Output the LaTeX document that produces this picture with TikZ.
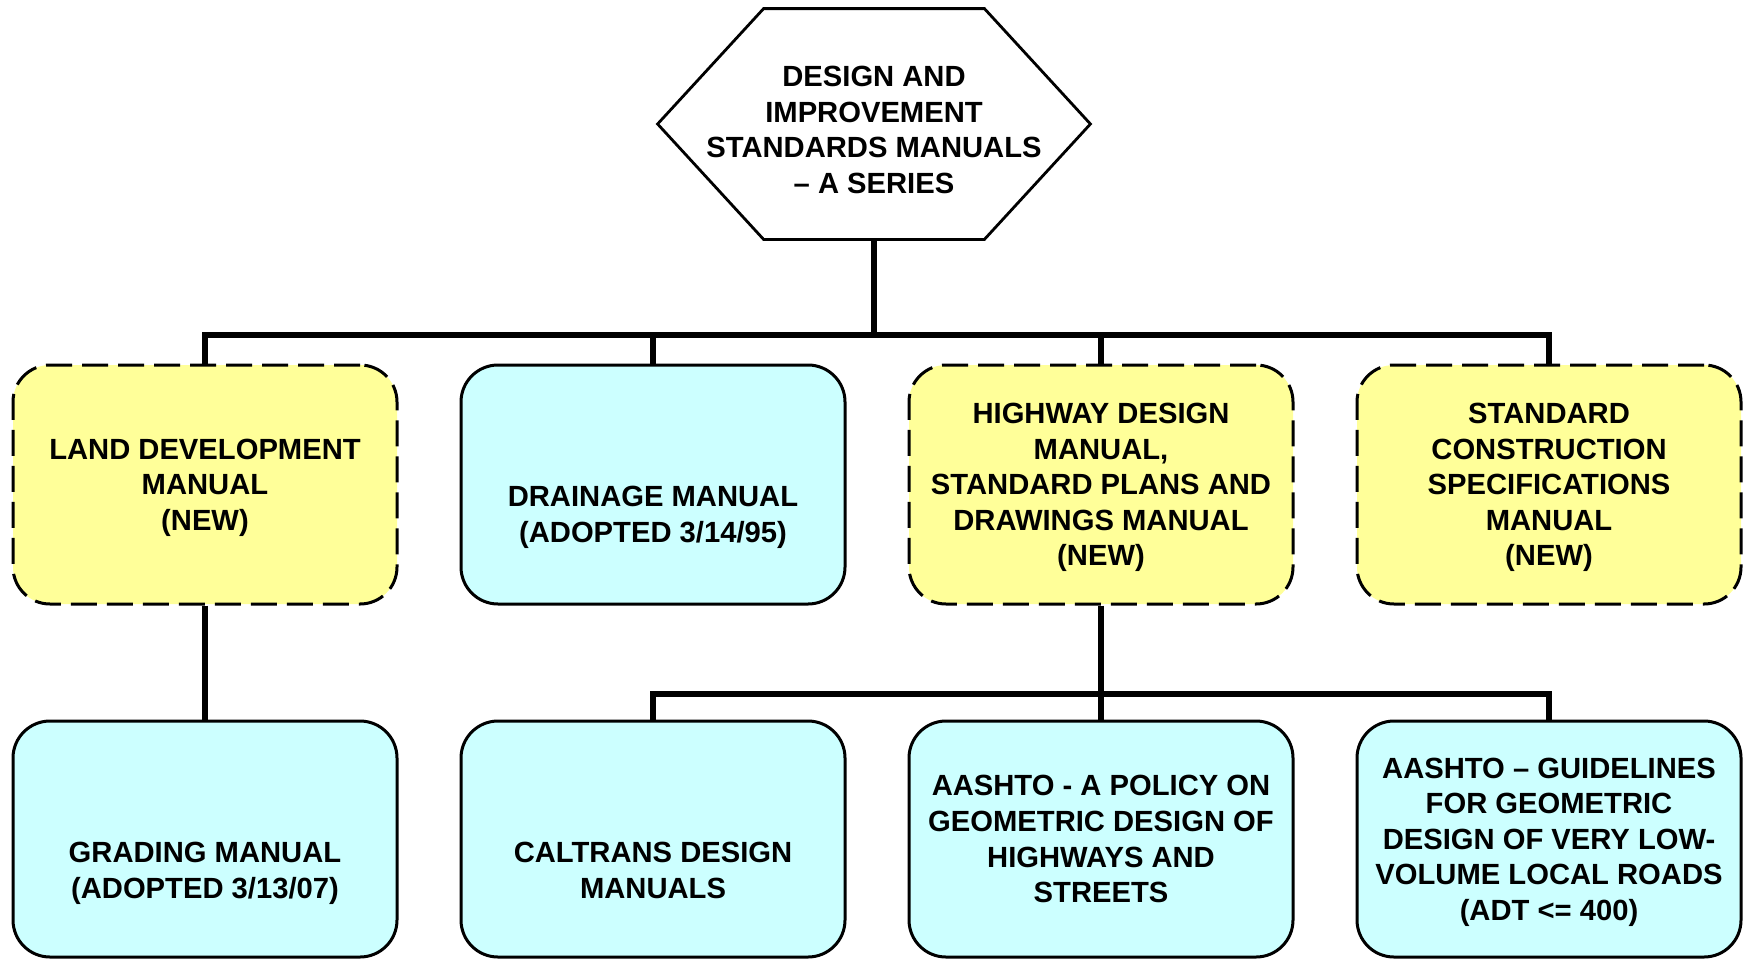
\documentclass[tikz,border=0pt]{standalone}
\usepackage{fontspec}
\setmainfont{Liberation Sans}

\definecolor{newyellow}{HTML}{FFFF99}
\definecolor{oldcyan}{HTML}{CCFFFF}

\tikzset{
  boxtext/.style={align=center, inner sep=0pt, text depth=0pt, font=\bfseries\fontsize{14.6}{17.8}\selectfont},
  manual/.style={boxtext, draw=black, line width=1.5pt, rounded corners=18.5pt, minimum width=192pt},
  newmanual/.style={manual, fill=newyellow, dash pattern=on 13pt off 5pt},
  oldmanual/.style={manual, fill=oldcyan},
  link/.style={line width=2.7pt},
}

\begin{document}
\begin{tikzpicture}[x=0.5pt,y=0.5pt,yscale=-1,xscale=1]
\useasboundingbox (0,0) rectangle (1743,958);

% Top hexagon
\node[minimum width=216pt, minimum height=115pt, inner sep=0pt] (serieshex) at (874,124) {};
\draw[line width=1.4pt] (serieshex.west) -- ([xshift=53pt]serieshex.north west) -- ([xshift=-53pt]serieshex.north east)
  -- (serieshex.east) -- ([xshift=-53pt]serieshex.south east) -- ([xshift=53pt]serieshex.south west) -- cycle;
\node[boxtext] (series) at (874,130) {DESIGN AND\\IMPROVEMENT\\STANDARDS MANUALS\\-- A SERIES};

% First row
\node[newmanual, minimum height=119.5pt] (landdev) at (205,484.5) {LAND DEVELOPMENT\\MANUAL\\(NEW)};
\node[oldmanual, minimum height=119.5pt] (drainage) at (653,484.5) {};
\node[boxtext] (drainagetext) at (653,514) {DRAINAGE MANUAL\\(ADOPTED 3/14/95)};
\node[newmanual, minimum height=119.5pt] (highway) at (1101,484.5) {HIGHWAY DESIGN\\MANUAL,\\STANDARD PLANS AND\\DRAWINGS MANUAL\\(NEW)};
\node[newmanual, minimum height=119.5pt] (stdconst) at (1549,484.5) {STANDARD\\CONSTRUCTION\\SPECIFICATIONS\\MANUAL\\(NEW)};

% Second row
\node[oldmanual, minimum height=118pt] (grading) at (205,839) {};
\node[boxtext] (gradingtext) at (205,870) {GRADING MANUAL\\(ADOPTED 3/13/07)};
\node[oldmanual, minimum height=118pt] (caltrans) at (653,839) {};
\node[boxtext] (caltranstext) at (653,870) {CALTRANS DESIGN\\MANUALS};
\node[oldmanual, minimum height=118pt] (policy) at (1101,839) {AASHTO - A POLICY ON\\GEOMETRIC DESIGN OF\\HIGHWAYS AND\\STREETS};
\node[oldmanual, minimum height=118pt] (lowvol) at (1549,839) {AASHTO -- GUIDELINES\\FOR GEOMETRIC\\DESIGN OF VERY LOW-\\VOLUME LOCAL ROADS\\(ADT <= 400)};

% Connectors
\coordinate (topbus) at (874,335);
\coordinate (lowbus) at (1101,694);
\draw[link] (serieshex.south) -- (topbus);
\draw[link] (landdev.north) -- (landdev.north |- topbus) -- (stdconst.north |- topbus) -- (stdconst.north);
\draw[link] (drainage.north) -- (drainage.north |- topbus);
\draw[link] (highway.north) -- (highway.north |- topbus);
\draw[link] (landdev.south) -- (grading.north);
\draw[link] (highway.south) -- (policy.north);
\draw[link] (caltrans.north) -- (caltrans.north |- lowbus) -- (lowvol.north |- lowbus) -- (lowvol.north);

\end{tikzpicture}
\end{document}
